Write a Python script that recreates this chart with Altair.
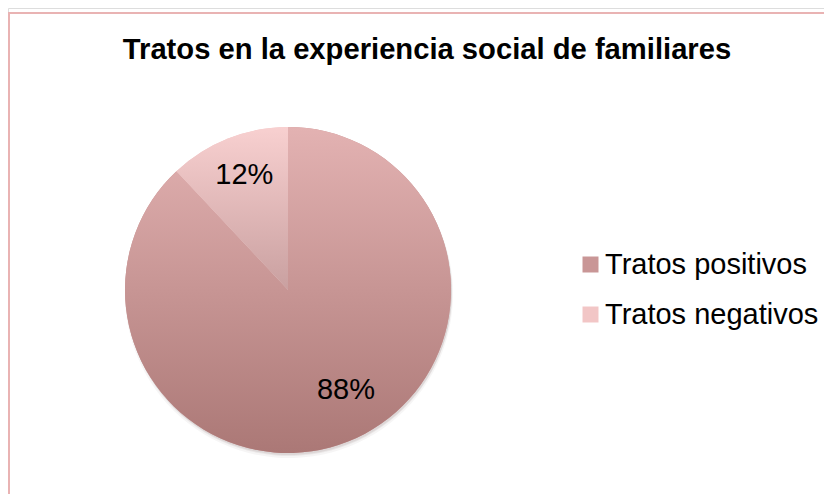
import math
import altair as alt
import pandas as pd

# --- data ---
categorias = ["Tratos positivos", "Tratos negativos"]
valores = [88, 12]
etiquetas = ["88%", "12%"]
orden = [1, 2]

df = pd.DataFrame({"categoria": categorias, "valor": valores,
                   "etiqueta": etiquetas, "orden": orden})

FONT = "Liberation Sans"
CX, CY, R = 280, 282, 163

grad_pos = {"gradient": "linear", "x1": 0, "y1": 0, "x2": 0, "y2": 1,
            "stops": [{"offset": 0, "color": "#e3b2b2"},
                      {"offset": 1, "color": "#ab7876"}]}
grad_neg = {"gradient": "linear", "x1": 0, "y1": 0, "x2": 0, "y2": 1,
            "stops": [{"offset": 0, "color": "#f8d0d0"},
                      {"offset": 1, "color": "#c9a0a0"}]}

base = alt.Chart(df)
theta_stack = alt.Theta("valor:Q", stack=True)
order_enc = alt.Order("orden:Q")

# soft shadow
shadows = [
    base.mark_arc(radius=R + off, color="#6b4f4f", opacity=op, strokeWidth=0).encode(
        theta=theta_stack, order=order_enc,
        x=alt.value(CX + 1), y=alt.value(CY + dy))
    for off, dy, op in [(1, 4, 0.06), (0, 3, 0.08), (0, 2, 0.10)]
]

# solid layer (carries the legend)
legend_layer = base.mark_arc(radius=R, strokeWidth=0).encode(
    theta=theta_stack, order=order_enc,
    color=alt.Color("categoria:N",
                    scale=alt.Scale(domain=categorias, range=["#c99696", "#f2c6c6"]),
                    legend=alt.Legend(title=None, orient="none", legendX=568, legendY=242,
                                      symbolType="square", symbolSize=256,
                                      symbolStrokeWidth=0, labelFont=FONT,
                                      labelFontSize=29, labelColor="#000",
                                      rowPadding=20, labelOffset=0, padding=0,
                                      labelLimit=400)),
    x=alt.value(CX), y=alt.value(CY))

# gradient overlay
grad_layer = base.mark_arc(radius=R, strokeWidth=0).encode(
    theta=theta_stack, order=order_enc,
    color=alt.condition(alt.datum.categoria == "Tratos positivos",
                        alt.value(grad_pos), alt.value(grad_neg)),
    x=alt.value(CX), y=alt.value(CY))

ang = base.transform_window(
    acum="sum(valor)", sort=[alt.SortField("orden")], frame=[None, 0]
).transform_calculate(medio="datum.acum - datum.valor / 2")

theta_mid = alt.Theta("medio:Q", scale=alt.Scale(domain=[0, 100], range=[0, 2 * math.pi]))

lab_pos = ang.transform_filter(alt.datum.categoria == "Tratos positivos").mark_text(
    radius=114, dx=16, dy=-6, font=FONT, fontSize=29, color="#000").encode(
    theta=theta_mid, text="etiqueta:N", x=alt.value(CX), y=alt.value(CY))

lab_neg = ang.transform_filter(alt.datum.categoria == "Tratos negativos").mark_text(
    radius=124, dx=2, font=FONT, fontSize=29, color="#000").encode(
    theta=theta_mid, text="etiqueta:N", x=alt.value(CX), y=alt.value(CY))

border = base.mark_rect(filled=False, stroke="#e9b3b3", strokeWidth=2).encode(
    x=alt.value(1), x2=alt.value(1200), y=alt.value(5), y2=alt.value(1200))

chart = alt.layer(
    border, *shadows, legend_layer, grad_layer, lab_pos, lab_neg
).resolve_scale(theta="independent").properties(
    width=816, height=486,
    autosize=alt.AutoSizeParams(type="none"),
    padding={"left": 0, "top": 0, "right": 0, "bottom": 0},
    title=alt.TitleParams("Tratos en la experiencia social de familiares",
                          font=FONT, fontSize=29.2, fontWeight="bold", color="#000",
                          anchor="middle", dx=11, offset=-80, baseline="alphabetic"),
).configure_view(strokeWidth=0, stroke="transparent").configure(background="white")

chart.save("out.html", embed_options={"renderer": "svg", "actions": False})
